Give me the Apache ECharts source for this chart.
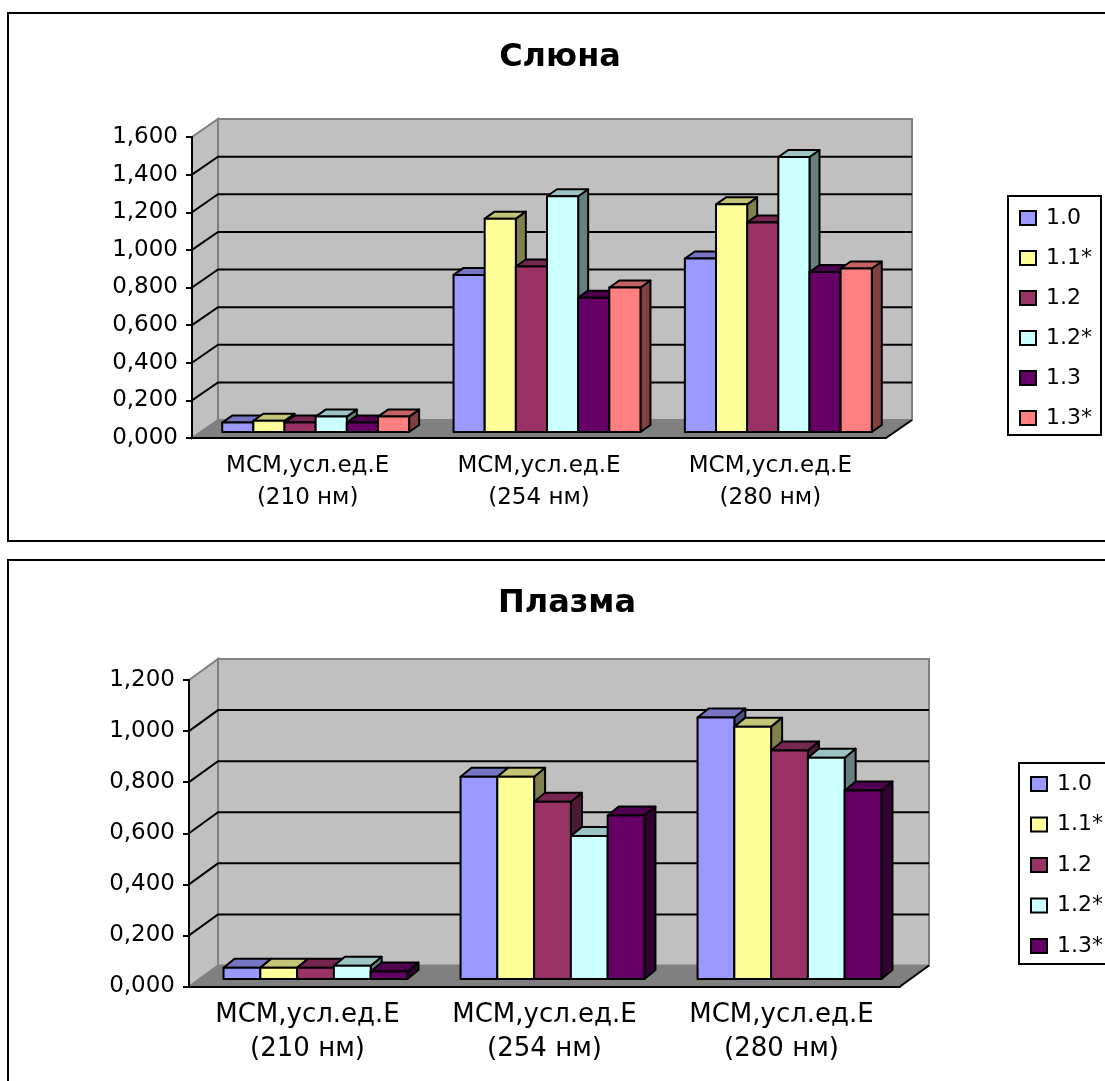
<!DOCTYPE html>
<html>
<head>
<meta charset="utf-8">
<title>Слюна, Плазма</title>
<script src="https://cdn.jsdelivr.net/npm/echarts@6/dist/echarts.min.js"></script>
<style>
html, body { margin: 0; padding: 0; background: #fff; overflow: hidden; }
#saliva { position: absolute; left: 0; top: 0; width: 1105px; height: 550px; }
#plasma { position: absolute; left: 0; top: 550px; width: 1105px; height: 531px; }
</style>
</head>
<body>
<div id="saliva"></div>
<div id="plasma"></div>
<script>
var categories = ['МСМ,усл.ед.Е\n(210 нм)', 'МСМ,усл.ед.Е\n(254 нм)', 'МСМ,усл.ед.Е\n(280 нм)'];

// Слюна
var salivaTicks = [0, 0.2, 0.4, 0.6, 0.8, 1.0, 1.2, 1.4, 1.6];
var salivaNames = ['1.0', '1.1*', '1.2', '1.2*', '1.3', '1.3*'];
var saliva10 = [0.050, 0.835, 0.922];
var saliva11 = [0.060, 1.134, 1.210];
var saliva12 = [0.050, 0.880, 1.114];
var saliva12s = [0.082, 1.253, 1.462];
var saliva13 = [0.050, 0.714, 0.850];
var saliva13s = [0.082, 0.768, 0.869];
var salivaColors = ['#9999FF', '#FFFF99', '#993366', '#CCFFFF', '#660066', '#FF8080'];

// Плазма
var plasmaTicks = [0, 0.2, 0.4, 0.6, 0.8, 1.0, 1.2];
var plasmaNames = ['1.0', '1.1*', '1.2', '1.2*', '1.3*'];
var plasma10 = [0.044, 0.792, 1.024];
var plasma11 = [0.044, 0.792, 0.988];
var plasma12 = [0.044, 0.694, 0.895];
var plasma12s = [0.052, 0.560, 0.866];
var plasma13s = [0.029, 0.640, 0.738];
var plasmaColors = ['#9999FF', '#FFFF99', '#993366', '#CCFFFF', '#660066'];

var FONT = '"DejaVu Sans", sans-serif';

// затемнение цвета для граней столбика
function shade(hex, k) {
	var n = parseInt(hex.slice(1), 16);
	var r = Math.round((n >> 16 & 255) * k);
	var g = Math.round((n >> 8 & 255) * k);
	var b = Math.round((n & 255) * k);
	return 'rgb(' + r + ',' + g + ',' + b + ')';
}

// стенки и линии сетки
function wallsRender(cfg, ticks) {
	return function (params, api) {
		var v = api.value(1);
		var box = params.coordSys;
		var left = box.x, right = box.x + box.width;
		var y = api.coord([0, v])[1];
		var dx = cfg.wallDx, dy = cfg.wallDy;
		var children = [];
		if (v === 0) {
			var top = box.y;
			children.push({
				type: 'polygon',
				shape: { points: [[left + dx, top - dy], [right + dx, top - dy], [right + dx, y - dy], [left + dx, y - dy]] },
				style: { fill: '#C0C0C0', stroke: '#808080', lineWidth: 2 }
			});
			children.push({
				type: 'polygon',
				shape: { points: [[left, top], [left + dx, top - dy], [left + dx, y - dy], [left, y]] },
				style: { fill: '#C0C0C0', stroke: '#808080', lineWidth: 2 }
			});
			children.push({
				type: 'polygon',
				shape: { points: [[left, y], [right, y], [right + dx, y - dy], [left + dx, y - dy]] },
				style: { fill: '#808080', stroke: '#808080', lineWidth: 1 }
			});
			children.push({
				type: 'line',
				shape: { x1: right, y1: y, x2: right + dx, y2: y - dy },
				style: { stroke: '#000', lineWidth: 2 }
			});
		} else if (v !== ticks[ticks.length - 1]) {
			children.push({
				type: 'polyline',
				shape: { points: [[left, y], [left + dx, y - dy], [right + dx, y - dy]] },
				style: { fill: 'none', stroke: '#000', lineWidth: 2 }
			});
		}
		return { type: 'group', children: children };
	};
}

// столбик: передняя грань, верх и бок
function barRender(cfg, pos, count, color) {
	return function (params, api) {
		var cat = api.value(0);
		var groupW = api.size([1, 0])[0] * cfg.groupRatio;
		var w = groupW / count;
		var base = api.coord([cat, 0]);
		var top = api.coord([cat, api.value(1)]);
		var x1 = base[0] + cfg.barDx - groupW / 2 + pos * w;
		var x2 = x1 + w;
		var y1 = top[1] - cfg.barDy;
		var y2 = base[1] - cfg.barDy;
		var dx = cfg.depthX, dy = cfg.depthY;
		var line = { stroke: '#000', lineWidth: 2, lineJoin: 'round' };
		return {
			type: 'group',
			children: [{
				type: 'polygon',
				shape: { points: [[x2, y1], [x2 + dx, y1 - dy], [x2 + dx, y2 - dy], [x2, y2]] },
				style: Object.assign({ fill: shade(color, 0.5) }, line)
			}, {
				type: 'polygon',
				shape: { points: [[x1, y1], [x1 + dx, y1 - dy], [x2 + dx, y1 - dy], [x2, y1]] },
				style: Object.assign({ fill: shade(color, 0.77) }, line)
			}, {
				type: 'polygon',
				shape: { points: [[x1, y1], [x2, y1], [x2, y2], [x1, y2]] },
				style: Object.assign({ fill: color }, line)
			}]
		};
	};
}

function drawChart(domId, cfg, names, colors, values, ticks) {
	var chart = echarts.init(document.getElementById(domId));
	var series = [{
		type: 'custom',
		silent: true,
		z: 1,
		clip: false,
		renderItem: wallsRender(cfg, ticks),
		encode: { x: 0, y: 1 },
		data: ticks.map(function (t) { return [0, t]; })
	}];
	for (var i = 0; i < names.length; i++) {
		series.push({
			name: names[i],
			type: 'custom',
			z: 2,
			clip: false,
			itemStyle: { color: colors[i] },
			renderItem: barRender(cfg, i, names.length, colors[i]),
			encode: { x: 0, y: 1 },
			data: values[i].map(function (v, c) { return [c, v]; })
		});
	}
	var option = {
		animation: false,
		backgroundColor: '#fff',
		textStyle: { fontFamily: FONT },
		title: {
			text: cfg.title,
			left: cfg.titleX,
			top: cfg.titleY,
			textAlign: 'center',
			textStyle: { fontFamily: FONT, fontWeight: 'bold', fontSize: cfg.titleSize, color: '#000' }
		},
		grid: { left: cfg.left, top: cfg.top, width: cfg.width, height: cfg.height },
		legend: {
			orient: 'vertical',
			left: cfg.legendX,
			top: cfg.legendY,
			data: names,
			icon: 'rect',
			selectedMode: false,
			itemWidth: 16,
			itemHeight: 14,
			itemGap: cfg.legendGap,
			padding: cfg.legendPad,
			backgroundColor: '#fff',
			borderColor: '#000',
			borderWidth: 2,
			itemStyle: { borderColor: '#000', borderWidth: 2 },
			textStyle: { fontFamily: FONT, fontSize: 22, color: '#000', padding: [0, 0, 0, 5] }
		},
		xAxis: {
			type: 'category',
			data: categories,
			z: 10,
			axisLine: { lineStyle: { color: '#000', width: 2 } },
			axisTick: { length: 6, lineStyle: { color: '#000', width: 2 } },
			axisLabel: { color: '#000', fontFamily: FONT, fontSize: cfg.catSize, lineHeight: cfg.catLine, margin: 12, interval: 0 }
		},
		yAxis: {
			type: 'value',
			min: 0,
			max: ticks[ticks.length - 1],
			interval: 0.2,
			z: 10,
			splitLine: { show: false },
			axisLine: { show: true, lineStyle: { color: '#000', width: 2 } },
			axisTick: { show: true, length: 6, lineStyle: { color: '#000', width: 2 } },
			axisLabel: {
				color: '#000',
				fontFamily: FONT,
				fontSize: 23,
				margin: 14,
				formatter: function (v) { return v.toFixed(3).replace('.', ','); }
			}
		},
		graphic: [{
			type: 'rect',
			silent: true,
			z: 100,
			shape: { x: 8, y: cfg.frameY, width: 1300, height: cfg.frameH },
			style: { fill: 'none', stroke: '#000', lineWidth: 2 }
		}],
		series: series
	};
	chart.setOption(option);
}

drawChart('saliva', {
	title: 'Слюна', titleX: 555, titleY: 37, titleSize: 32,
	left: 192, top: 137, width: 694, height: 301,
	wallDx: 26, wallDy: 18,
	groupRatio: 0.808, barDx: 8, barDy: 6, depthX: 10, depthY: 7,
	catSize: 23, catLine: 32,
	legendX: 1008, legendY: 196, legendGap: 18, legendPad: [11, 9, 6, 11],
	frameY: 13, frameH: 528
}, salivaNames, salivaColors, [saliva10, saliva11, saliva12, saliva12s, saliva13, saliva13s], salivaTicks);

drawChart('plasma', {
	title: 'Плазма', titleX: 562, titleY: 33, titleSize: 32,
	left: 189, top: 130, width: 711, height: 306.5,
	wallDx: 29, wallDy: 21,
	groupRatio: 0.776, barDx: 8, barDy: 7.5, depthX: 11, depthY: 9,
	catSize: 26, catLine: 34,
	legendX: 1019, legendY: 213, legendGap: 18.5, legendPad: [10, 9, 7, 11],
	frameY: 10, frameH: 700
}, plasmaNames, plasmaColors, [plasma10, plasma11, plasma12, plasma12s, plasma13s], plasmaTicks);
</script>
</body>
</html>
